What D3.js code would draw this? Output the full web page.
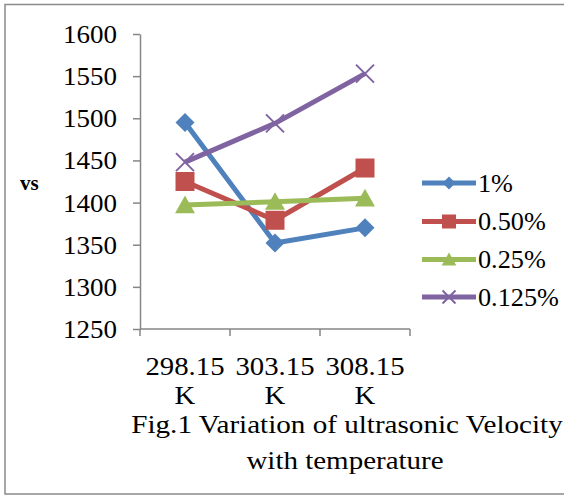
<!DOCTYPE html>
<html>
<head>
<meta charset="utf-8">
<script src="https://cdn.jsdelivr.net/npm/d3@7"></script>
<style>
  body { margin: 0; background: #fff; }
  svg text { font-family: "Liberation Serif", "Times New Roman", serif; fill: #000; }
</style>
</head>
<body>
<div class="chart"></div>
<script>
// data
const categories = ["298.15 K", "303.15 K", "308.15 K"];
const seriesNames = ["1%", "0.50%", "0.25%", "0.125%"];
const values1 = [1495, 1352, 1370];
const values050 = [1425, 1379, 1441];
const values025 = [1397, 1401, 1405];
const values0125 = [1448, 1494, 1553];
const yTicks = [1250, 1300, 1350, 1400, 1450, 1500, 1550, 1600];

const colors = ["#4F81BD", "#C0504D", "#9BBB59", "#8064A2"];
const shapes = ["diamond", "square", "triangle", "cross"];
const allValues = [values1, values050, values025, values0125];

const svgWidth = 564;
const svgHeight = 496;
const svg = d3.select(".chart").append("svg")
  .attr("width", svgWidth)
  .attr("height", svgHeight);

// outer frame (right edge runs off the picture)
svg.append("rect")
  .attr("x", 5).attr("y", 4.5)
  .attr("width", 570).attr("height", 489.5)
  .attr("fill", "none")
  .attr("stroke", "#8a8a8a")
  .attr("stroke-width", 1.5);

const xScale = d3.scaleBand().domain(categories).range([140, 410]);
const yScale = d3.scaleLinear().domain([1250, 1600]).range([329, 34]);

// y axis
const yAxisG = svg.append("g")
  .attr("transform", "translate(140,0)")
  .call(d3.axisLeft(yScale).tickValues(yTicks).tickFormat(d3.format("d")).tickSize(7).tickSizeOuter(0));
yAxisG.select(".domain").attr("stroke", "#868686").attr("stroke-width", 1.5);
yAxisG.selectAll(".tick line").attr("stroke", "#868686").attr("stroke-width", 1.5);
yAxisG.selectAll(".tick text")
  .attr("x", 0)
  .attr("transform", "translate(-23,0) scale(1.08,1)")
  .attr("font-size", 25)
  .attr("dy", "0.34em");

// x axis line and boundary ticks
const xAxisG = svg.append("g");
xAxisG.append("line")
  .attr("x1", xScale.range()[0]).attr("x2", xScale.range()[1])
  .attr("y1", yScale(1250)).attr("y2", yScale(1250))
  .attr("stroke", "#868686").attr("stroke-width", 1.5);
const boundaries = categories.map((c) => xScale(c)).concat([xScale.range()[1]]);
xAxisG.selectAll(".xtick")
  .data(boundaries)
  .enter()
  .append("line")
  .attr("class", "xtick")
  .attr("x1", (d) => d).attr("x2", (d) => d)
  .attr("y1", yScale(1250)).attr("y2", yScale(1250) + 7)
  .attr("stroke", "#868686").attr("stroke-width", 1.5);

const xLabels = xAxisG.selectAll(".xlabel")
  .data(categories)
  .enter()
  .append("text")
  .attr("class", "xlabel")
  .attr("text-anchor", "middle")
  .attr("font-size", 25)
  .attr("transform", (d) => `translate(${xScale(d) + xScale.bandwidth() / 2},0) scale(1.15,1)`);
xLabels.append("tspan")
  .attr("x", 0)
  .attr("y", 375)
  .text((d) => d.split(" ")[0]);
xLabels.append("tspan")
  .attr("x", 0)
  .attr("y", 404)
  .text((d) => d.split(" ")[1]);

// y axis title
svg.append("text")
  .attr("x", 20).attr("y", 190)
  .attr("font-size", 21)
  .attr("font-weight", "bold")
  .text("vs");

// chart title
svg.append("text")
  .attr("text-anchor", "middle")
  .attr("font-size", 25)
  .attr("transform", "translate(347,433) scale(1.165,1)")
  .text("Fig.1 Variation of ultrasonic Velocity");
svg.append("text")
  .attr("text-anchor", "middle")
  .attr("font-size", 25)
  .attr("transform", "translate(345,469) scale(1.16,1)")
  .text("with temperature");

const markerPath = (shape, s) => {
  if (shape === "diamond") return `M0,${-s}L${s},0L0,${s}L${-s},0Z`;
  if (shape === "square") return `M${-s},${-s}H${s}V${s}H${-s}Z`;
  if (shape === "triangle") return `M0,${-s}L${s * 1.05},${s * 0.85}L${-s * 1.05},${s * 0.85}Z`;
  return `M${-s},${-s}L${s},${s}M${-s},${s}L${s},${-s}`;
};

const drawMarker = (g, shape, color, s) => {
  const p = g.append("path").attr("d", markerPath(shape, s));
  if (shape === "cross") {
    p.attr("fill", "none").attr("stroke", color).attr("stroke-width", 2);
  } else {
    p.attr("fill", color);
  }
};

const xPos = (i) => xScale(categories[i]) + xScale.bandwidth() / 2;
const line = d3.line().x((d, i) => xPos(i)).y((d) => yScale(d));

allValues.forEach((vals, k) => {
  const g = svg.append("g");
  g.append("path")
    .attr("d", line(vals))
    .attr("fill", "none")
    .attr("stroke", colors[k])
    .attr("stroke-width", 5)
    .attr("stroke-linejoin", "round");
  const sizes = [9.5, 9.5, 9.5, 9];
  vals.forEach((v, i) => {
    const m = g.append("g").attr("transform", `translate(${xPos(i)},${yScale(v)})`);
    drawMarker(m, shapes[k], colors[k], sizes[k]);
  });
});

// legend
const legendY = [183, 221.5, 259.5, 297];
seriesNames.forEach((name, k) => {
  const g = svg.append("g").attr("transform", `translate(0,${legendY[k]})`);
  g.append("line")
    .attr("x1", 422).attr("x2", 476)
    .attr("y1", 0).attr("y2", 0)
    .attr("stroke", colors[k])
    .attr("stroke-width", 5);
  const m = g.append("g").attr("transform", "translate(449,0)");
  drawMarker(m, shapes[k], colors[k], [6.5, 7, 7, 6.5][k]);
  g.append("text")
    .attr("transform", "translate(478,0) scale(1.05,1)")
    .attr("dy", "0.34em")
    .attr("font-size", 25)
    .text(name);
});
</script>
</body>
</html>
